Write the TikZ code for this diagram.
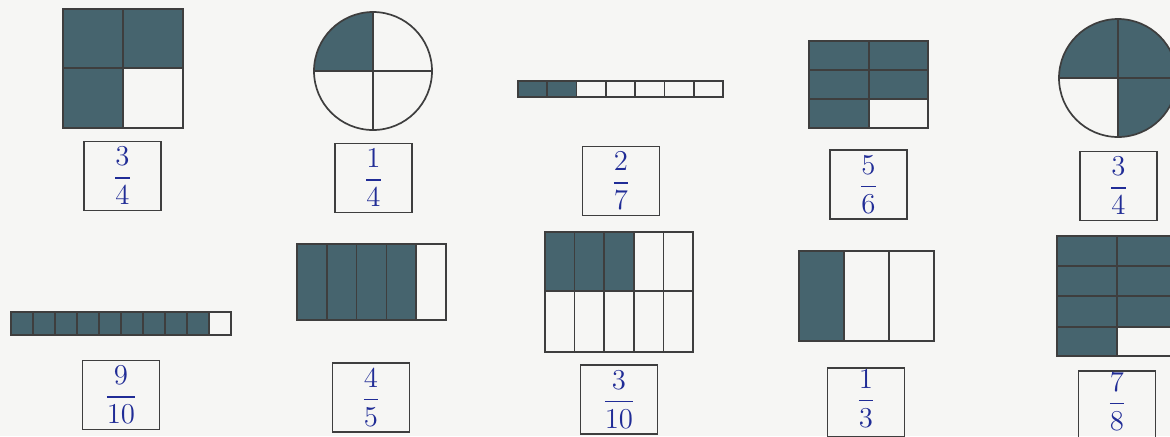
\documentclass[tikz,border=0pt]{standalone}
\usepackage{amsmath}
\usepackage{tikz}
\usetikzlibrary{positioning}
\definecolor{paper}{RGB}{246,246,244}
\definecolor{cellfill}{RGB}{70,100,110}
\definecolor{rulegray}{RGB}{62,62,62}
\definecolor{ink}{RGB}{32,44,150}

\begin{document}
\begin{tikzpicture}[x=.5pt,y=-.5pt,line width=.85pt,
  shaded/.style={fill=cellfill},
  cellline/.style={draw=rulegray},
  answer/.style={draw=rulegray,minimum width=38.5pt,minimum height=34.5pt,inner sep=0pt,text=ink,font=\fontsize{14}{17}\selectfont},
  liftup/.style={text depth=14pt}]
\fill[paper] (0,0) rectangle (1170,436);
\useasboundingbox (0,0) rectangle (1170,436);
\clip (0,0) rectangle (1170,436);
% top row
\fill[shaded] (63,9) rectangle (183,68);
\fill[shaded] (63,68) rectangle (123,128);
\draw[cellline] (63,9) rectangle (183,128);
\draw[cellline] (123,9)--(123,128);
\draw[cellline] (63,68)--(183,68);
\node[answer] (a1) at (122.5,176) {$\dfrac{3}{4}$};
\coordinate (c2) at (373,71);
\fill[shaded] (c2) -- ++(-59,0) arc[start angle=180,end angle=90,radius=29.5pt] -- cycle;
\draw[cellline] (c2) circle[radius=29.5pt];
\draw[cellline] (373,12)--(373,130);
\draw[cellline] (314,71)--(432,71);
\node[answer] (a2) at (373.5,178) {$\dfrac{1}{4}$};
\fill[shaded] (518,81) rectangle (576.6,97);
\draw[cellline] (518,81) rectangle (723,97);
\draw[cellline] (547.3,81)--(547.3,97);
\draw[cellline] (576.6,81)--(576.6,97);
\draw[cellline] (605.9,81)--(605.9,97);
\draw[cellline] (635.1,81)--(635.1,97);
\draw[cellline] (664.4,81)--(664.4,97);
\draw[cellline] (693.7,81)--(693.7,97);
\node[answer] (a3) at (621,181) {$\dfrac{2}{7}$};
\fill[shaded] (809,41) rectangle (928,99);
\fill[shaded] (809,99) rectangle (869,128);
\draw[cellline] (809,41) rectangle (928,128);
\draw[cellline] (869,41)--(869,128);
\draw[cellline] (809,70)--(928,70);
\draw[cellline] (809,99)--(928,99);
\node[answer] (a4) at (868.5,184.5) {$\dfrac{5}{6}$};
\coordinate (c5) at (1118,78);
\fill[shaded] (c5) -- ++(-59,0) arc[start angle=180,end angle=-90,radius=29.5pt] -- cycle;
\draw[cellline] (c5) circle[radius=29.5pt];
\draw[cellline] (1118,19)--(1118,137);
\draw[cellline] (1059,78)--(1177,78);
\node[answer] (a5) at (1118.5,186) {$\dfrac{3}{4}$};
% bottom row
\fill[shaded] (11,312) rectangle (209,335);
\draw[cellline] (11,312) rectangle (231,335);
\foreach \x in {33,55,77,99,121,143,165,187,209}
  \draw[cellline] (\x,312)--(\x,335);
\node[answer] (a6) at (121,395) {$\dfrac{9}{10}$};
\fill[shaded] (297,244) rectangle (416.2,320);
\draw[cellline] (297,244) rectangle (446,320);
\draw[cellline] (326.8,244)--(326.8,320);
\draw[cellline] (356.6,244)--(356.6,320);
\draw[cellline] (386.4,244)--(386.4,320);
\draw[cellline] (416.2,244)--(416.2,320);
\node[answer] (a7) at (371,397.5) {$\dfrac{4}{5}$};
\fill[shaded] (545,232) rectangle (633.8,291);
\draw[cellline] (545,232) rectangle (693,352);
\draw[cellline] (545,291)--(693,291);
\draw[cellline] (574.6,232)--(574.6,352);
\draw[cellline] (604.2,232)--(604.2,352);
\draw[cellline] (633.8,232)--(633.8,352);
\draw[cellline] (663.4,232)--(663.4,352);
\node[answer] (a8) at (619,399.5) {$\dfrac{3}{10}$};
\fill[shaded] (799,251) rectangle (844,341);
\draw[cellline] (799,251) rectangle (934,341);
\draw[cellline] (844,251)--(844,341);
\draw[cellline] (889,251)--(889,341);
\node[answer,liftup] (a9) at (866,402.5) {$\dfrac{1}{3}$};
\fill[shaded] (1057,236) rectangle (1177,327);
\fill[shaded] (1057,327) rectangle (1117,356);
\draw[cellline] (1057,236) rectangle (1177,356);
\draw[cellline] (1117,236)--(1117,356);
\draw[cellline] (1057,266)--(1177,266);
\draw[cellline] (1057,296)--(1177,296);
\draw[cellline] (1057,327)--(1177,327);
\node[answer,liftup] (a10) at (1117,405.5) {$\dfrac{7}{8}$};
\end{tikzpicture}
\end{document}
